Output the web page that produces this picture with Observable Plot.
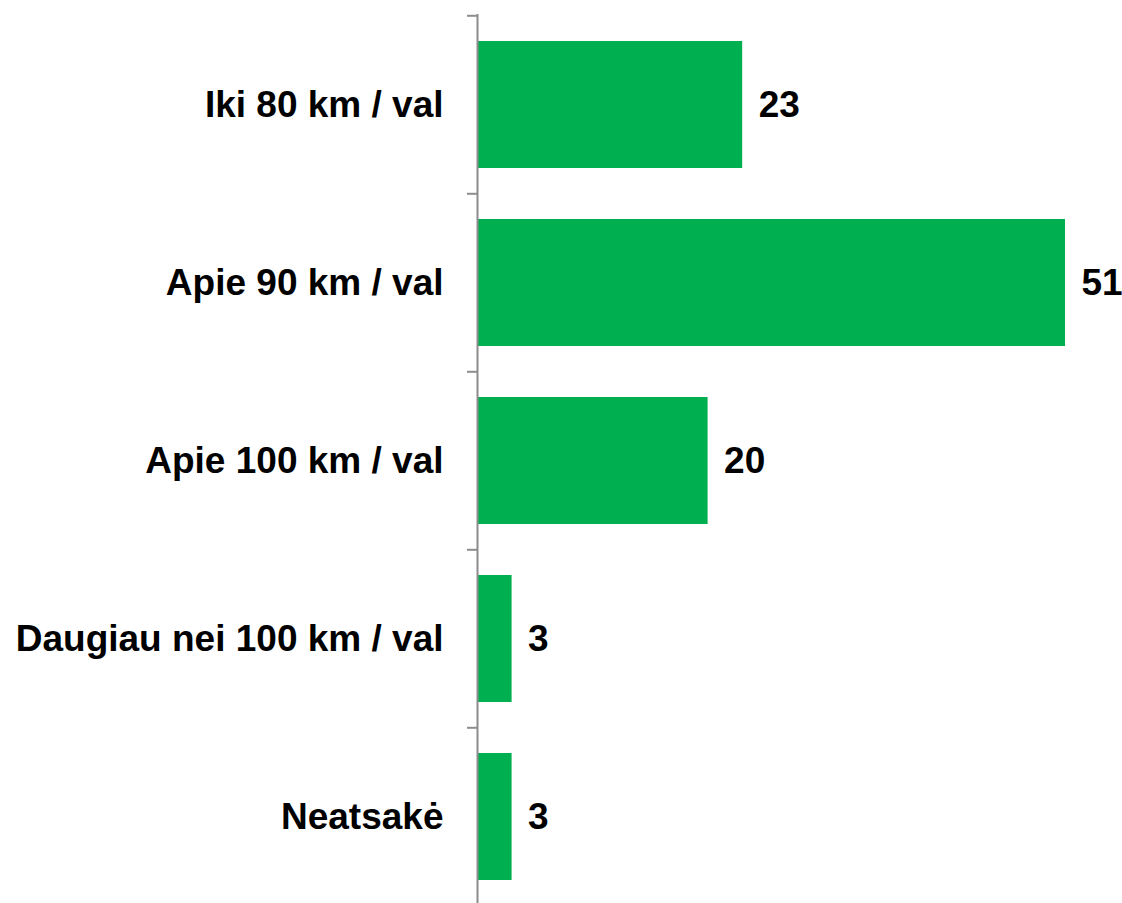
<!DOCTYPE html>
<html><head><meta charset="utf-8">
<script src="https://cdn.jsdelivr.net/npm/d3@7"></script>
<script src="https://cdn.jsdelivr.net/npm/@observablehq/plot@0.6"></script>
<style>
body{margin:0;background:#fff;}
svg{display:block;}
</style>
</head><body><div id="chart"></div>
<script>
const categories = ["Iki 80 km / val","Apie 90 km / val","Apie 100 km / val","Daugiau nei 100 km / val","Neatsakė"];
const values = [23, 51, 20, 3, 3];
const data = categories.map((c,i)=>({cat:c, v:values[i]}));

const W = 1122, H = 903;
const mTop = 14, mBottom = -4, mLeft = 477, mRight = 0;
const pIn = 0.285, pOut = 0.145;
const step = (H - mBottom - mTop) / (categories.length - pIn + 2 * pOut);
const FONT = "'Liberation Sans', Arial, sans-serif";

const chart = Plot.plot({
  width: W, height: H,
  marginLeft: mLeft, marginRight: mRight, marginTop: mTop, marginBottom: mBottom,
  style: {fontFamily: FONT, background: "#fff"},
  x: {domain: [0, 51], range: [mLeft, 1065], axis: null},
  y: {domain: categories, paddingInner: pIn, paddingOuter: pOut, axis: null},
  marks: [
    Plot.barX(data, {y: "cat", x: "v", fill: "#00b050", insetLeft: 1}),
    Plot.text(data, {y: "cat", x: "v", text: d => String(d.v), textAnchor: "start", dx: 16,
      fontSize: 37, fontWeight: "bold", fill: "#000", fontFamily: FONT}),
    Plot.axisY({tickSize: 0, tickPadding: 34, fontSize: 37, fontWeight: "bold", color: "#000", fontFamily: FONT, label: null}),
    Plot.axisY({tickSize: 10, text: null, dy: -step/2, stroke: "#8c8c8c", strokeWidth: 2, strokeOpacity: 1, label: null}),
    Plot.ruleX([0], {stroke: "#8c8c8c", strokeWidth: 2})
  ]
});
document.getElementById("chart").appendChild(chart);
</script>
</body></html>
